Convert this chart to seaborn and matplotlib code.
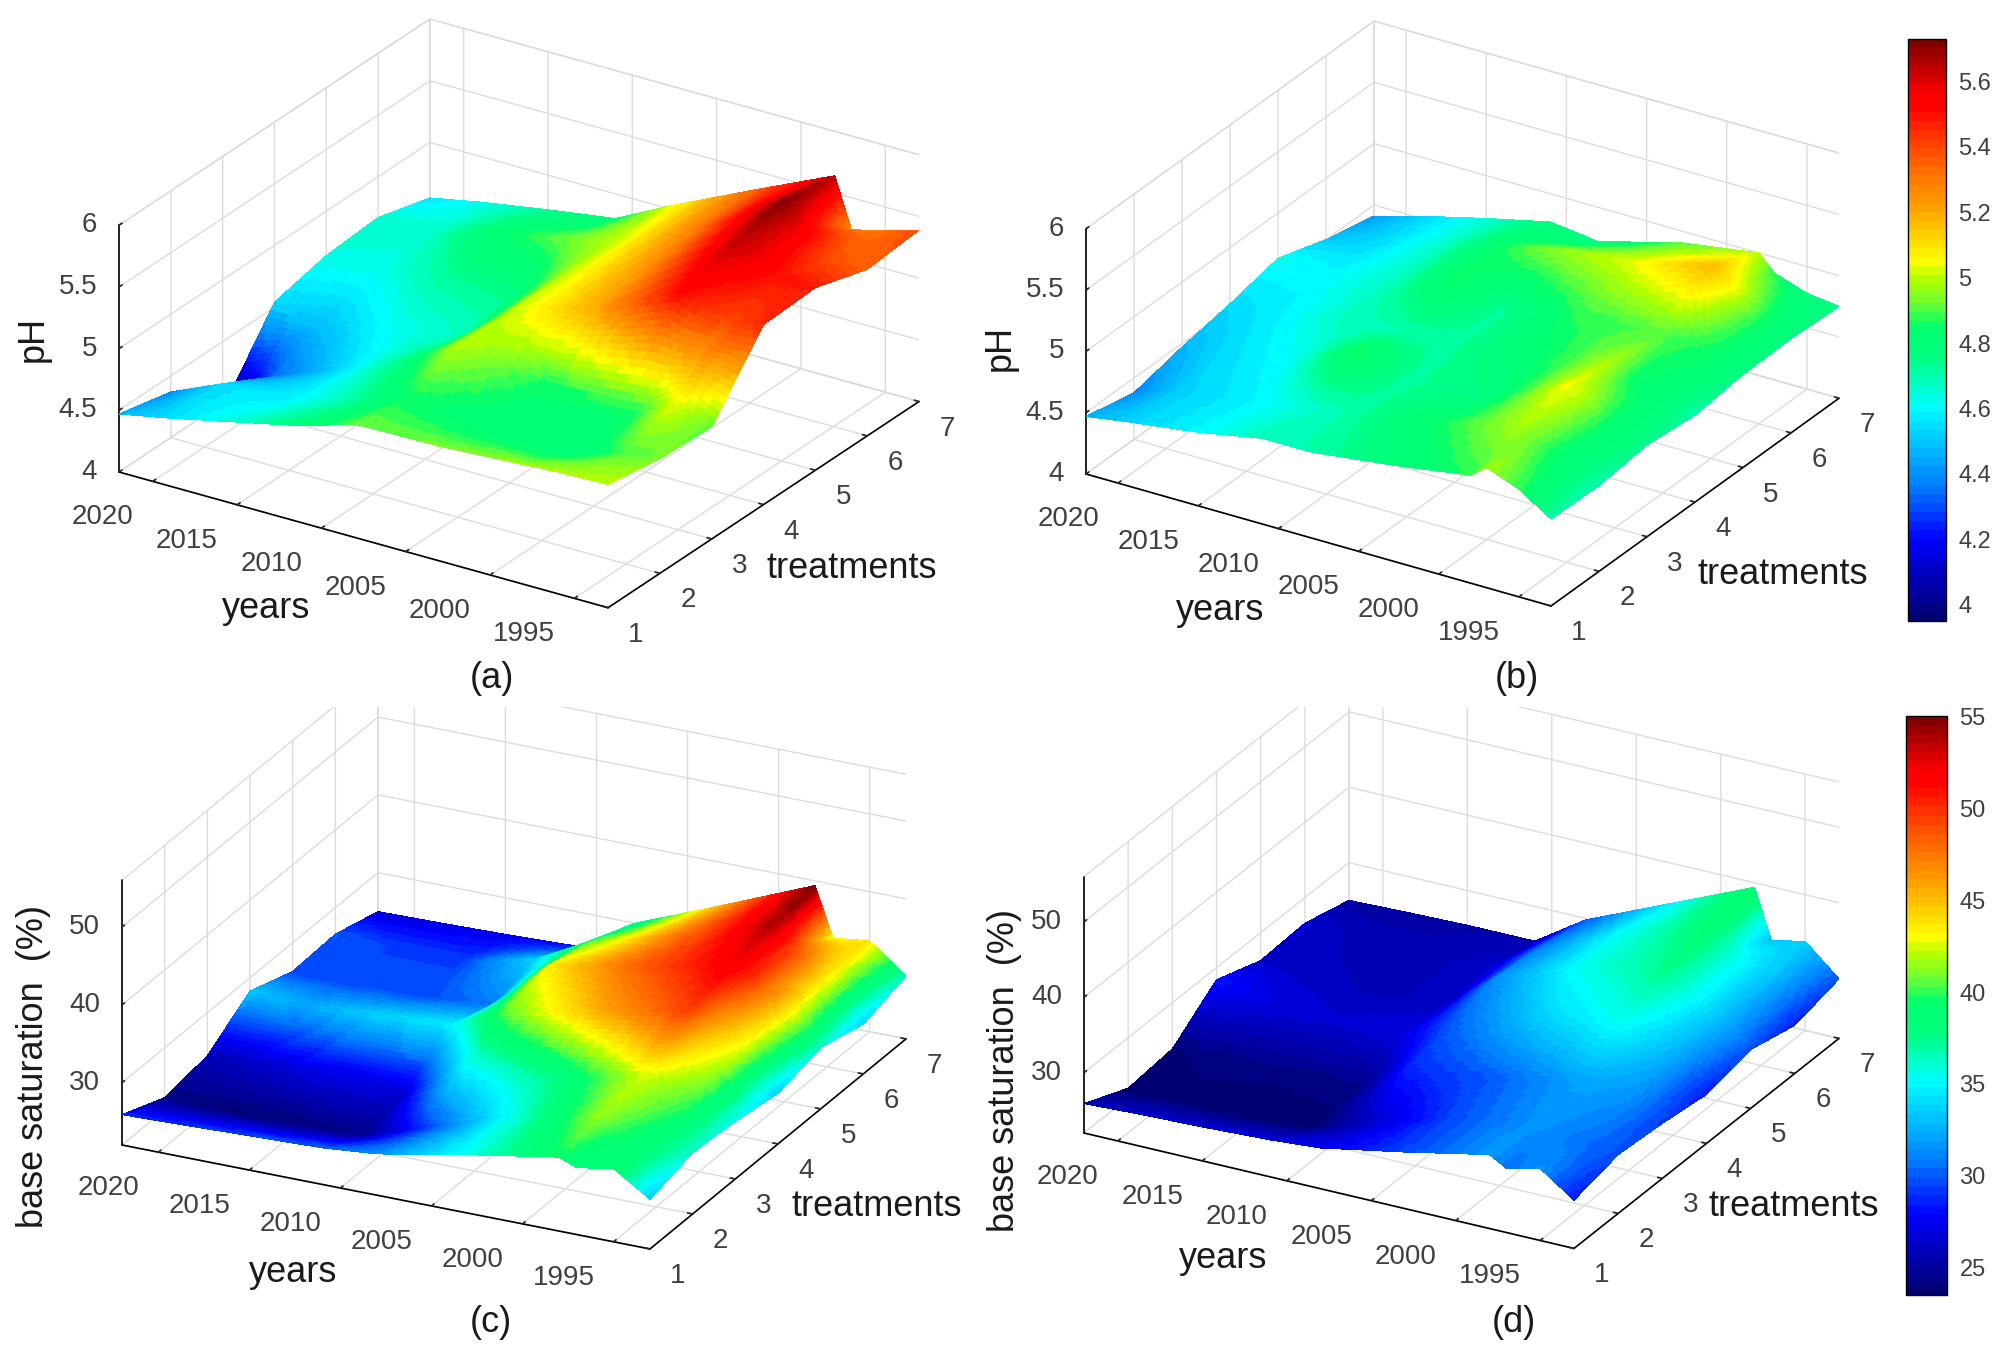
#!/usr/bin/env python3

import numpy as np
import seaborn as sns
import matplotlib
matplotlib.use("Agg")
import matplotlib.pyplot as plt
from matplotlib.colors import LinearSegmentedColormap, Normalize
from matplotlib.cm import ScalarMappable
from matplotlib.patches import Rectangle
from mpl_toolkits.mplot3d import proj3d

W, H = 2004, 1349

years = [2022, 2019, 2015, 2011, 2008, 2003, 1998, 1997, 1995, 1993]
treatments = [1, 2, 3, 4, 5, 6, 7]
year_ticks = [1995, 2000, 2005, 2010, 2015, 2020]

# one row per year, one column per treatment
ph_a = [
    [4.47, 4.37, 3.95, 4.54, 4.64, 4.67, 4.55],
    [4.55, 4.55, 4.33, 4.50, 4.63, 4.66, 4.63],
    [4.67, 4.58, 4.54, 4.62, 4.72, 4.82, 4.72],
    [4.79, 4.72, 4.77, 4.68, 4.74, 4.92, 4.80],
    [4.92, 4.85, 5.00, 5.00, 5.00, 5.00, 5.01],
    [4.93, 4.80, 4.85, 5.20, 5.25, 5.30, 5.33],
    [4.97, 4.78, 4.85, 5.52, 5.63, 5.72, 5.64],
    [4.98, 4.82, 4.88, 5.45, 5.60, 5.60, 5.24],
    [4.99, 4.90, 5.05, 5.40, 5.50, 5.38, 5.31],
    [5.00, 4.93, 4.91, 5.46, 5.48, 5.35, 5.39],
]
ph_b = [
    [4.47, 4.38, 4.47, 4.54, 4.63, 4.50, 4.41],
    [4.53, 4.52, 4.55, 4.58, 4.60, 4.55, 4.52],
    [4.60, 4.58, 4.62, 4.68, 4.68, 4.68, 4.65],
    [4.70, 4.66, 4.87, 4.70, 4.85, 4.85, 4.77],
    [4.70, 4.72, 4.72, 4.72, 4.72, 4.95, 4.72],
    [4.78, 4.85, 4.76, 4.82, 4.88, 5.03, 4.90],
    [4.88, 4.98, 5.05, 4.98, 4.90, 5.18, 5.00],
    [4.98, 4.92, 5.00, 4.85, 4.88, 5.10, 4.87],
    [4.88, 4.80, 4.82, 4.80, 4.85, 4.88, 4.78],
    [4.71, 4.70, 4.75, 4.71, 4.76, 4.77, 4.75],
]
bs_c = [
    [25.9, 23.6, 24.45, 28.3, 26.3, 26.6, 25.0],
    [26.1, 23.5, 24.8, 27.8, 26.4, 26.3, 25.1],
    [26.4, 23.5, 25.2, 28.5, 26.4, 26.3, 25.3],
    [26.7, 23.8, 25.0, 29.0, 27.0, 28.5, 25.6],
    [27.3, 26.0, 29.0, 32.0, 33.5, 32.0, 29.9],
    [29.5, 29.5, 30.5, 34.5, 36.0, 35.5, 34.6],
    [31.5, 32.5, 33.0, 36.5, 37.8, 38.8, 39.4],
    [30.6, 32.0, 32.7, 34.5, 37.0, 37.0, 33.1],
    [31.4, 31.0, 32.0, 33.0, 34.0, 33.5, 33.7],
    [28.4, 29.9, 29.4, 28.5, 29.9, 28.4, 30.1],
]
bs_d = [
    [25.9, 23.3, 23.85, 28.4, 26.3, 26.6, 25.0],
    [26.2, 23.6, 24.4, 27.0, 26.2, 25.8, 25.2],
    [26.5, 23.5, 24.2, 26.6, 25.8, 25.6, 25.4],
    [26.9, 23.8, 24.2, 27.0, 26.2, 26.5, 25.4],
    [27.4, 26.0, 28.8, 30.0, 31.5, 30.8, 29.8],
    [29.5, 29.5, 30.0, 33.5, 35.5, 35.5, 34.6],
    [31.8, 31.5, 32.0, 35.5, 37.5, 38.5, 39.4],
    [30.5, 31.5, 32.0, 34.5, 36.5, 36.5, 32.9],
    [31.55, 30.5, 31.5, 32.5, 33.5, 33.5, 33.8],
    [28.4, 29.8, 29.3, 28.5, 29.8, 28.4, 29.9],
]

ph_ticks = [4, 4.5, 5, 5.5, 6]
ph_labels = ["4", "4.5", "5", "5.5", "6"]
bs_ticks = [30, 40, 50]
bs_labels = ["30", "40", "50"]
cbar_ph_ticks = [4, 4.2, 4.4, 4.6, 4.8, 5, 5.2, 5.4, 5.6]
cbar_bs_ticks = [25, 30, 35, 40, 45, 50, 55]

# colour bar stops
cmap_stops = [0.0, 0.135, 0.23, 0.368, 0.45, 0.505, 0.548, 0.59, 0.62, 0.71, 0.80, 0.89, 0.91, 1.0]
cmap_colors = ["#000073", "#0000ff", "#0080ff", "#00ffff", "#00ff80", "#00ff6e", "#6eff32", "#b4ff00",
               "#ffff00", "#ffa500", "#ff5a00", "#ff0000", "#ff0000", "#820000"]

sns.set_theme(style="white")
plt.rcParams["font.family"] = ["Liberation Sans", "DejaVu Sans"]

TICK_COLOR = "#404040"
GRID_COLOR = "#dcdcdc"
surface_cmap = LinearSegmentedColormap.from_list("surface", list(zip(cmap_stops, cmap_colors)), N=64)

# panel settings: view, box shape, target corners of the floor in image pixels
PANELS = [
    dict(z=ph_a, zlim=(4, 6), zticks=ph_ticks, zlabels=ph_labels, clim=(3.95, 5.73),
         elev=25.4, azim=-57.1, box=(582, 572, 273), left=(119, 472), right=(919, 400)),
    dict(z=ph_b, zlim=(4, 6), zticks=ph_ticks, zlabels=ph_labels, clim=(3.95, 5.73),
         elev=26.9, azim=-57.9, box=(549, 542, 275), left=(1086, 474), right=(1839, 398)),
    dict(z=bs_c, zlim=(22, 56), zticks=bs_ticks, zlabels=bs_labels, clim=(23.3, 39.4),
         elev=23.7, azim=-63.9, box=(588, 582, 289), left=(122, 1145), right=(906, 1039)),
    dict(z=bs_d, zlim=(22, 56), zticks=bs_ticks, zlabels=bs_labels, clim=(23.5, 55.05),
         elev=25.6, azim=-61.4, box=(557.5, 553, 284), left=(1084, 1133), right=(1839, 1039)),
]

# text, x, y (image pixels)
LABELS = [
    ("pH", 33, 339, 90), ("years", 266, 609, 0), ("treatments", 852, 569, 0), ("(a)", 492, 679, 0),
    ("pH", 1000, 348, 90), ("years", 1220, 610, 0), ("treatments", 1783, 575, 0), ("(b)", 1517, 679, 0),
    ("base saturation  (%)", 34, 1067, 90), ("years", 293, 1272, 0), ("treatments", 877, 1206, 0), ("(c)", 491, 1323, 0),
    ("base saturation  (%)", 1004, 1071, 90), ("years", 1223, 1258, 0), ("treatments", 1794, 1206, 0), ("(d)", 1514, 1322, 0),
]


def refine(z, n=14):
    """Subdivide each grid cell so the colours run smoothly across it."""
    z = np.asarray(z, dtype=float)
    ri = np.linspace(0, z.shape[0] - 1, (z.shape[0] - 1) * n + 1)
    ci = np.linspace(0, z.shape[1] - 1, (z.shape[1] - 1) * n + 1)
    by_col = np.array([np.interp(ri, np.arange(z.shape[0]), z[:, j]) for j in range(z.shape[1])]).T
    fine = np.array([np.interp(ci, np.arange(z.shape[1]), row) for row in by_col])
    yr = np.interp(ri, np.arange(len(years)), years)
    tr = np.interp(ci, np.arange(len(treatments)), treatments)
    return yr, tr, fine


def display_xy(ax, x, y, z):
    px, py, _ = proj3d.proj_transform(x, y, z, ax.get_proj())
    return ax.transData.transform((px, py))


def fit_axes(ax, p):
    """Move the square 3D axes so the floor corners land on the target pixels."""
    zmin = p["zlim"][0]
    for _ in range(3):
        ax.apply_aspect()
        a = display_xy(ax, years[0], 1, zmin)
        b = display_xy(ax, years[-1], 7, zmin)
        pos = ax.get_position()
        scale = (p["right"][0] - p["left"][0]) / (b[0] - a[0])
        side = pos.width * W * scale
        cx, cy = (pos.x0 + pos.width / 2) * W, (pos.y0 + pos.height / 2) * H
        nx = p["left"][0] + (cx - a[0]) * scale
        ny = (H - p["left"][1]) + (cy - a[1]) * scale
        ax.set_position([(nx - side / 2) / W, (ny - side / 2) / H, side / W, side / H])
    ax.apply_aspect()


def tick_label(fig, xy, dx, dy, text, ha="center"):
    fig.text((xy[0] + dx) / W, (xy[1] - dy) / H, text, ha=ha, va="center",
             fontsize=20, color=TICK_COLOR, zorder=2)


def draw_panel(fig, p):
    ax = fig.add_axes([0.1, 0.1, 0.4, 0.4 * W / H], projection="3d")
    ax.set_proj_type("ortho")
    ax.view_init(elev=p["elev"], azim=p["azim"])
    ax.set_box_aspect(p["box"], zoom=1.0)
    ax.set_facecolor("none")

    yr, tr, fine = refine(p["z"])
    X, Y = np.meshgrid(yr, tr, indexing="ij")
    ax.plot_surface(X, Y, fine, cmap=surface_cmap, vmin=p["clim"][0], vmax=p["clim"][1],
                    rstride=1, cstride=1, linewidth=0, antialiased=False, shade=False)

    ax.set_xlim(years[0], years[-1])
    ax.set_ylim(1, 7)
    ax.set_zlim(*p["zlim"])
    ax.set_xticks(year_ticks)
    ax.set_yticks(treatments)
    ax.set_zticks(p["zticks"])
    ax.set_xticklabels([])
    ax.set_yticklabels([])
    ax.set_zticklabels([])

    for axis in (ax.xaxis, ax.yaxis, ax.zaxis):
        axis.set_pane_color((1, 1, 1, 1))
        axis.pane.set_edgecolor(GRID_COLOR)
        axis.line.set_color("black")
        axis.line.set_linewidth(1.2)
        axis._axinfo["grid"].update(color=GRID_COLOR, linewidth=1.0)
        axis._axinfo["tick"].update(inward_factor=0.0, outward_factor=0.12, color="black")
    ax.zaxis.set_ticks_position("lower")
    fit_axes(ax, p)

    # the 3D axes push tick labels along odd directions, so place them from the projected ticks
    zmin = p["zlim"][0]
    for yr_tick in year_ticks:
        tick_label(fig, display_xy(ax, yr_tick, 1, zmin), -50, 36, str(yr_tick))
    for t in treatments:
        tick_label(fig, display_xy(ax, years[-1], t, zmin), 28, 27, str(t))
    for z_tick, text in zip(p["zticks"], p["zlabels"]):
        tick_label(fig, display_xy(ax, years[0], 1, z_tick), -22, 0, text, ha="right")
    return ax


def add_colorbar(fig, clim, ticks, left, top, right, bottom):
    cax = fig.add_axes([left / W, 1 - bottom / H, (right - left) / W, (bottom - top) / H])
    sm = ScalarMappable(norm=Normalize(*clim), cmap=surface_cmap)
    cb = fig.colorbar(sm, cax=cax, ticks=ticks)
    cb.ax.set_yticklabels([f"{t:g}" for t in ticks])
    cb.ax.tick_params(labelsize=17, labelcolor=TICK_COLOR, direction="in", length=4, width=1, color="black", pad=9, right=True)
    cb.outline.set_edgecolor("black")
    cb.outline.set_linewidth(1)


def main():
    fig = plt.figure(figsize=(W / 100, H / 100), dpi=100, facecolor="white")

    for p in PANELS:
        draw_panel(fig, p)

    # the lower panels' walls are cut off under the upper captions in the original
    fig.add_artist(Rectangle((0, 1 - 707 / H), 1, 60 / H, transform=fig.transFigure,
                             facecolor="white", edgecolor="none", zorder=1))

    add_colorbar(fig, (3.95, 5.73), cbar_ph_ticks, 1908, 39, 1946, 621)
    add_colorbar(fig, (23.5, 55.05), cbar_bs_ticks, 1906, 716, 1947, 1295)

    for text, x, y, rot in LABELS:
        fig.text(x / W, 1 - y / H, text, ha="center", va="center", rotation=rot,
                 fontsize=26, color="#1a1a1a", zorder=2)

    fig.savefig("out.png", dpi=100)


if __name__ == "__main__":
    main()
